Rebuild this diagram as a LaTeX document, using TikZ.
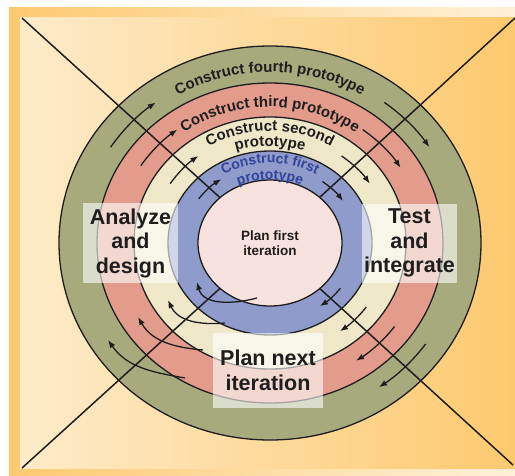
\documentclass[tikz,border=0pt]{standalone}
\usepackage{fontspec}
\setmainfont{Liberation Sans}
\usetikzlibrary{arrows.meta,decorations.text}

\definecolor{bgcream}{HTML}{FDEBC9}
\definecolor{bgorange}{HTML}{FDC96F}
\definecolor{ringgreen}{HTML}{A7AA7D}
\definecolor{ringred}{HTML}{E39C8C}
\definecolor{ringcream}{HTML}{EEE8C9}
\definecolor{ringblue}{HTML}{8E9BCB}
\definecolor{corepink}{HTML}{F8E2DE}
\definecolor{protoblue}{HTML}{33449A}
\definecolor{ink}{HTML}{1E1E1E}

\tikzstyle{ring} = [draw=ink, line width=1.3pt]
\tikzstyle{flow} = [draw=ink, line width=1.3pt, -{Latex[length=8pt,width=6pt]}]
\tikzstyle{phase} = [fill=white, fill opacity=0.6, text opacity=1, inner sep=0pt,
    align=center, text=ink, font=\fontsize{21.5}{24.5}\selectfont\bfseries]
\tikzstyle{curved} = [decorate, decoration={text along path, text align=center}]
\newcommand\ringfont{\fontsize{15}{15}\selectfont\bfseries\color{ink}}
\newcommand\firstfont{\fontsize{14}{14}\selectfont\bfseries\color{protoblue}}

\begin{document}
\begin{tikzpicture}[x=1pt, y=1pt]
    \useasboundingbox (0,0) rectangle (515,-475);

    % frame and paper
    \shade [left color=bgorange, right color=bgcream!70!white] (9,-7) rectangle (515,-475);
    \shade [left color=bgcream, right color=bgorange] (20,-17) rectangle (515,-468);

    \coordinate (c) at (270,-243);
    \coordinate (tl) at (22,-18);
    \coordinate (tr) at (515,-18);
    \coordinate (bl) at (22,-468);
    \coordinate (br) at (513,-465);

    % rings, outside in
    \path [ring, fill=ringgreen] (c) ellipse [x radius=211, y radius=197];
    \path [ring, fill=ringred] (c) ellipse [x radius=173, y radius=160];
    \path [ring, fill=ringcream] (c) ellipse [x radius=136, y radius=126];
    \path [ring, fill=ringblue] (c) ellipse [x radius=102, y radius=92];

    % the two diagonals stop at the core
    \path [draw=ink, line width=1.5pt] (tl) -- (c);
    \path [draw=ink, line width=1.5pt] (tr) -- (c);
    \path [draw=ink, line width=1.5pt] (bl) -- (c);
    \path [draw=ink, line width=1.5pt] (br) -- (c);

    \path [ring, fill=corepink] (c) ellipse [x radius=72, y radius=63];

    \begin{scope}[shift={(c)}]
        % upper left
        \path [flow] (147:190 and 176) arc [start angle=147, end angle=127, x radius=190, y radius=176];
        \path [flow] (147:154 and 142) arc [start angle=147, end angle=127, x radius=154, y radius=142];
        \path [flow] (147:119 and 109) arc [start angle=147, end angle=127, x radius=119, y radius=109];
        \path [flow] (145:87 and 77) arc [start angle=145, end angle=124, x radius=87, y radius=77];
        % upper right
        \path [flow] (53:190 and 176) arc [start angle=53, end angle=33, x radius=190, y radius=176];
        \path [flow] (53:154 and 142) arc [start angle=53, end angle=32, x radius=154, y radius=142];
        \path [flow] (53:119 and 109) arc [start angle=53, end angle=33, x radius=119, y radius=109];
        \path [flow] (53:87 and 77) arc [start angle=53, end angle=33, x radius=87, y radius=77];
        % lower right
        \path [flow] (-36:87 and 77) arc [start angle=-36, end angle=-55, x radius=87, y radius=77];
        \path [flow] (-36:119 and 109) arc [start angle=-36, end angle=-54, x radius=119, y radius=109];
        \path [flow] (-36:154 and 142) arc [start angle=-36, end angle=-56, x radius=154, y radius=142];
        \path [flow] (-35:190 and 176) arc [start angle=-35, end angle=-55, x radius=190, y radius=176];
        % lower left, each one steps out to the next ring
        \path [flow] (-13,-55) to [out=195, in=-75] (-73,-39);
        \path [flow] (-45,-80) to [out=185, in=-65] (-102,-57);
        \path [flow] (-67,-107) to [out=175, in=-60] (-132,-74);
        \path [flow] (-85,-135) to [out=170, in=-55] (-162,-97);

        % ring titles
        \path [curved, decoration={text={|\ringfont|Construct fourth prototype}}]
            (165:183 and 171) arc [start angle=165, end angle=15, x radius=183, y radius=171];
        \path [curved, decoration={text={|\ringfont|Construct third prototype}}]
            (165:147 and 136) arc [start angle=165, end angle=15, x radius=147, y radius=136];
        \path [curved, decoration={text={|\ringfont|Construct second}}]
            (165:122 and 112) arc [start angle=165, end angle=15, x radius=122, y radius=112];
        \path [curved, decoration={text={|\ringfont|prototype}}]
            (165:107 and 97) arc [start angle=165, end angle=15, x radius=107, y radius=97];
        \path [curved, decoration={text={|\firstfont|Construct first}}]
            (170:90 and 80) arc [start angle=170, end angle=10, x radius=90, y radius=80];
        \path [curved, decoration={text={|\firstfont|prototype}}]
            (170:73 and 63.5) arc [start angle=170, end angle=10, x radius=73, y radius=63.5];
    \end{scope}

    % phases
    \path (c)+(-139.5,0) node (analyze) [phase, minimum width=95pt, minimum height=80pt] {Analyze\\and\\design};
    \path (c)+(139.5,0) node (test) [phase, minimum width=95pt, minimum height=79pt] {Test\\and\\integrate};
    \path (c)+(-2,-127.5) node (plannext) [phase, minimum width=110pt, minimum height=75pt] {Plan next\\iteration};
    \path (c) node (planfirst) [align=center, text=ink, font=\fontsize{13.5}{15}\selectfont\bfseries] {Plan first\\iteration};
\end{tikzpicture}
\end{document}
